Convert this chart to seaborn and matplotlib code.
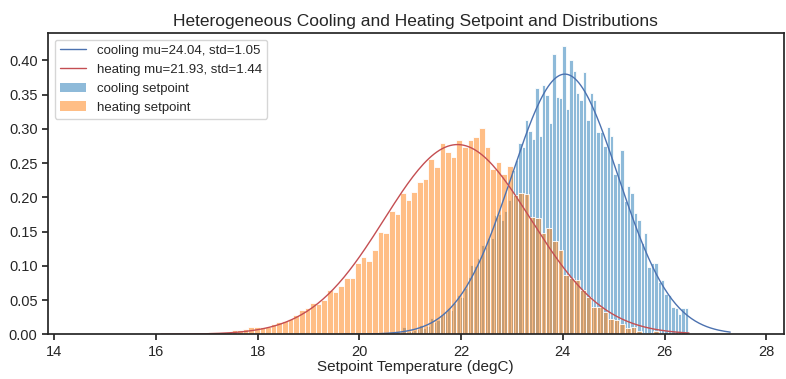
import numpy as np
import pandas as pd
import matplotlib
matplotlib.use("Agg")
import matplotlib.pyplot as plt
import seaborn as sns
from matplotlib.lines import Line2D
from matplotlib.patches import Patch

# ---- data ---------------------------------------------------------------
# histogram densities (per bin), heating setpoints, bins of width HEAT_BINW from HEAT_BIN0
HEAT_BIN0 = 16.604
HEAT_BINW = 0.1105
heat_density = [
    0.0025, 0.0025, 0.0, 0.0, 0.0035, 0.0035, 0.0035, 0.0035, 0.0061, 0.0061,
    0.0076, 0.0105, 0.0105, 0.0105, 0.0105, 0.0149, 0.0178, 0.0193, 0.0217, 0.0280,
    0.0354, 0.0388, 0.0456, 0.0436, 0.0500, 0.0646, 0.0612, 0.0705, 0.0817, 0.0817,
    0.1040, 0.1124, 0.1075, 0.1231, 0.1494, 0.1475, 0.1800, 0.1757, 0.2069, 0.1962,
    0.2074, 0.2225, 0.2264, 0.2561, 0.2449, 0.2791, 0.2668, 0.2586, 0.2844, 0.2741,
    0.2844, 0.2883, 0.3019, 0.2741, 0.2420, 0.2513, 0.2347, 0.2459, 0.2035, 0.2060,
    0.2050, 0.1718, 0.1694, 0.1475, 0.1548, 0.1367, 0.1231, 0.0865, 0.0817, 0.0792,
    0.0646, 0.0548, 0.0402, 0.0393, 0.0330, 0.0230, 0.0210, 0.0150, 0.0085, 0.0100,
    0.0045, 0.0020, 0.0020, 0.0050, 0.0020,
]

# cooling setpoints, bins of width COOL_BINW from COOL_BIN0
COOL_BIN0 = 20.512
COOL_BINW = 0.0669
cool_density = [
    0.0, 0.0020, 0.0020, 0.0030, 0.0020, 0.0100, 0.0030, 0.0045, 0.0060, 0.0070,
    0.0130, 0.0090, 0.0120, 0.0240, 0.0180, 0.0210, 0.0280, 0.0330, 0.0380, 0.0360,
    0.0450, 0.0570, 0.0550, 0.0670, 0.0840, 0.1010, 0.0990, 0.1110, 0.1300, 0.1280,
    0.1400, 0.1400, 0.1740, 0.1750, 0.1670, 0.1800, 0.1960, 0.2400, 0.2547, 0.2800,
    0.2740, 0.3132, 0.2975, 0.2850, 0.3595, 0.2900, 0.3643, 0.3500, 0.3080, 0.4096,
    0.3460, 0.3450, 0.4203, 0.3290, 0.4009, 0.3838, 0.3520, 0.3414, 0.3823, 0.3132,
    0.3530, 0.3424, 0.2960, 0.2960, 0.2751, 0.3025, 0.2898, 0.2342, 0.2507, 0.2693,
    0.1947, 0.2171, 0.2060, 0.1767, 0.1670, 0.1338, 0.1475, 0.0987, 0.1036, 0.1045,
    0.0768, 0.0792, 0.0588, 0.0573, 0.0402, 0.0378, 0.0300, 0.0378, 0.0380,
]

# fitted normal parameters and the span each fitted curve is drawn over
cool_mu, cool_std = 24.04, 1.05
heat_mu, heat_std = 21.93, 1.44
cool_fit_span = (19.70, 27.29)
heat_fit_span = (16.10, 26.48)

series_labels = ["cooling setpoint", "heating setpoint"]

# ---- style --------------------------------------------------------------
sns.set_style("ticks")
plt.rcParams["font.family"] = ["Liberation Sans", "DejaVu Sans"]
plt.rcParams["axes.linewidth"] = 1.25
plt.rcParams["xtick.major.width"] = 1.25
plt.rcParams["ytick.major.width"] = 1.25

fig = plt.figure(figsize=(7.86, 3.79), dpi=100)
ax = fig.add_axes([0.061, 0.118, 0.936, 0.795])


def draw_hist(density, start, width, color):
    density = np.asarray(density)
    n = len(density)
    centers = start + width * (np.arange(n) + 0.5)
    df = pd.DataFrame({"x": centers, "w": density})
    sns.histplot(data=df, x="x", weights="w", bins=n,
                 binrange=(start, start + width * n), stat="count",
                 color=color, alpha=0.5, edgecolor="white", linewidth=0.6,
                 ax=ax)


draw_hist(cool_density, COOL_BIN0, COOL_BINW, "#1f77b4")
draw_hist(heat_density, HEAT_BIN0, HEAT_BINW, "#ff7f0e")


def normal_pdf(x, mu, sd):
    return np.exp(-0.5 * ((x - mu) / sd) ** 2) / (sd * np.sqrt(2 * np.pi))


xc = np.linspace(*cool_fit_span, 200)
xh = np.linspace(*heat_fit_span, 200)
sns.lineplot(x=xc, y=normal_pdf(xc, cool_mu, cool_std), color="#4c72b0",
             linewidth=1.0, ax=ax)
sns.lineplot(x=xh, y=normal_pdf(xh, heat_mu, heat_std), color="#c44e52",
             linewidth=1.0, ax=ax)

ax.set_xlim(13.88, 28.34)
ax.set_ylim(0, 0.440)
ax.set_yticks(np.arange(0, 0.41, 0.05))
ax.set_xticks(np.arange(14, 29, 2))
ax.tick_params(labelsize=10.5, length=4.5, pad=3, colors=".15")
ax.set_ylabel("")
ax.set_xlabel("Setpoint Temperature (degC)", fontsize=11, labelpad=1)
ax.set_title("Heterogeneous Cooling and Heating Setpoint and Distributions",
             fontsize=12.5, pad=5)

handles = [
    Line2D([], [], color="#4c72b0", linewidth=1.0),
    Line2D([], [], color="#c44e52", linewidth=1.0),
    Patch(facecolor="#1f77b4", alpha=0.5, edgecolor="none"),
    Patch(facecolor="#ff7f0e", alpha=0.5, edgecolor="none"),
]
labels = [
    f"cooling mu={cool_mu:.2f}, std={cool_std:.2f}",
    f"heating mu={heat_mu:.2f}, std={heat_std:.2f}",
] + series_labels
ax.legend(handles, labels, loc="upper left", fontsize=9.5, frameon=True)

fig.savefig("out.png", dpi=100)
